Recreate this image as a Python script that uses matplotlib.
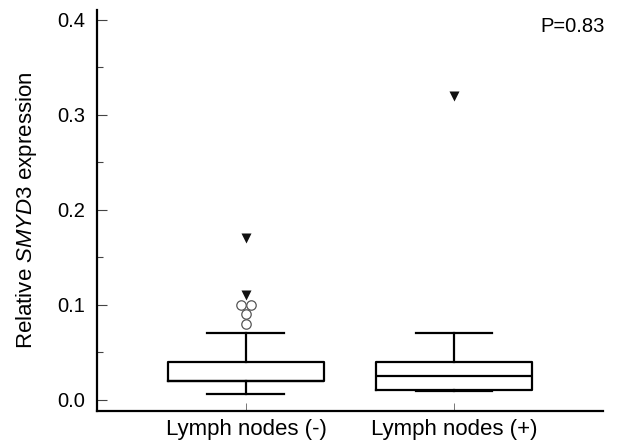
import matplotlib

matplotlib.use("Agg")

import matplotlib.pyplot as plt
from matplotlib.ticker import MultipleLocator

plt.rcParams["font.family"] = ["Liberation Sans", "DejaVu Sans"]
plt.rcParams["mathtext.fontset"] = "custom"
plt.rcParams["mathtext.rm"] = "Liberation Sans"
plt.rcParams["mathtext.it"] = "Liberation Sans:italic"

GROUPS = ["Lymph nodes (-)", "Lymph nodes (+)"]
Q1 = [0.020, 0.010]
MEDIAN = [0.020, 0.025]
Q3 = [0.040, 0.040]
WHISKER_LOW = [0.006, 0.009]
WHISKER_HIGH = [0.070, 0.070]

# mild outliers (open circles) and extremes (filled triangles)
OUTLIERS = [[0.100, 0.100, 0.090, 0.080], []]
OUTLIER_JITTER = [[-0.023, 0.023, 0.0, 0.0], []]
EXTREMES = [[0.170, 0.110], [0.320]]

P_TEXT = "P=0.83"

fig = plt.figure(figsize=(6.2, 4.44), dpi=100, facecolor="white")
ax = fig.add_axes([0.1565, 0.0743, 0.816, 0.9032])

positions = [1, 2]
stats = [
    {"q1": Q1[i], "med": MEDIAN[i], "q3": Q3[i],
     "whislo": WHISKER_LOW[i], "whishi": WHISKER_HIGH[i], "fliers": []}
    for i in range(len(GROUPS))
]
line_style = {"color": "black", "linewidth": 1.6}
ax.bxp(
    stats,
    positions=positions,
    widths=0.75,
    showfliers=False,
    boxprops=line_style,
    medianprops=line_style,
    whiskerprops=line_style,
    capprops=line_style,
    capwidths=0.37,
)

for pos, vals, jit in zip(positions, OUTLIERS, OUTLIER_JITTER):
    if vals:
        ax.scatter([pos + j for j in jit], vals, s=46, marker="o",
                   facecolor="white", edgecolor="#555555", linewidth=0.9, zorder=3)
for pos, vals in zip(positions, EXTREMES):
    ax.scatter([pos] * len(vals), vals, s=52, marker="v",
               color="#111111", linewidth=0, zorder=3)

ax.set_xlim(0.284, 2.716)
ax.set_ylim(-0.0116, 0.4105)

ax.set_xticks(positions)
ax.set_xticklabels(GROUPS, fontsize=16)
ax.yaxis.set_major_locator(MultipleLocator(0.1))
ax.yaxis.set_minor_locator(MultipleLocator(0.05))
ax.set_yticks([0.0, 0.1, 0.2, 0.3, 0.4])
ax.set_yticklabels(["0.0", "0.1", "0.2", "0.3", "0.4"], fontsize=14.5)

ax.tick_params(axis="y", which="major", direction="in", length=7.5, width=0.8,
               color="#444444", pad=8.5)
ax.tick_params(axis="y", which="minor", direction="in", length=4.5, width=0.8,
               color="#444444")
ax.tick_params(axis="x", which="major", direction="in", length=6, width=0.7,
               color="#777777", pad=6)

for side in ("top", "right"):
    ax.spines[side].set_visible(False)
for side in ("left", "bottom"):
    ax.spines[side].set_linewidth(1.6)

ax.set_ylabel("Relative $\\it{SMYD3}$ expression", fontsize=16, labelpad=13)

ax.text(1.004, 0.958, P_TEXT, transform=ax.transAxes, ha="right", va="center",
        fontsize=14.5)

fig.savefig("out.png", dpi=100, facecolor="white")
